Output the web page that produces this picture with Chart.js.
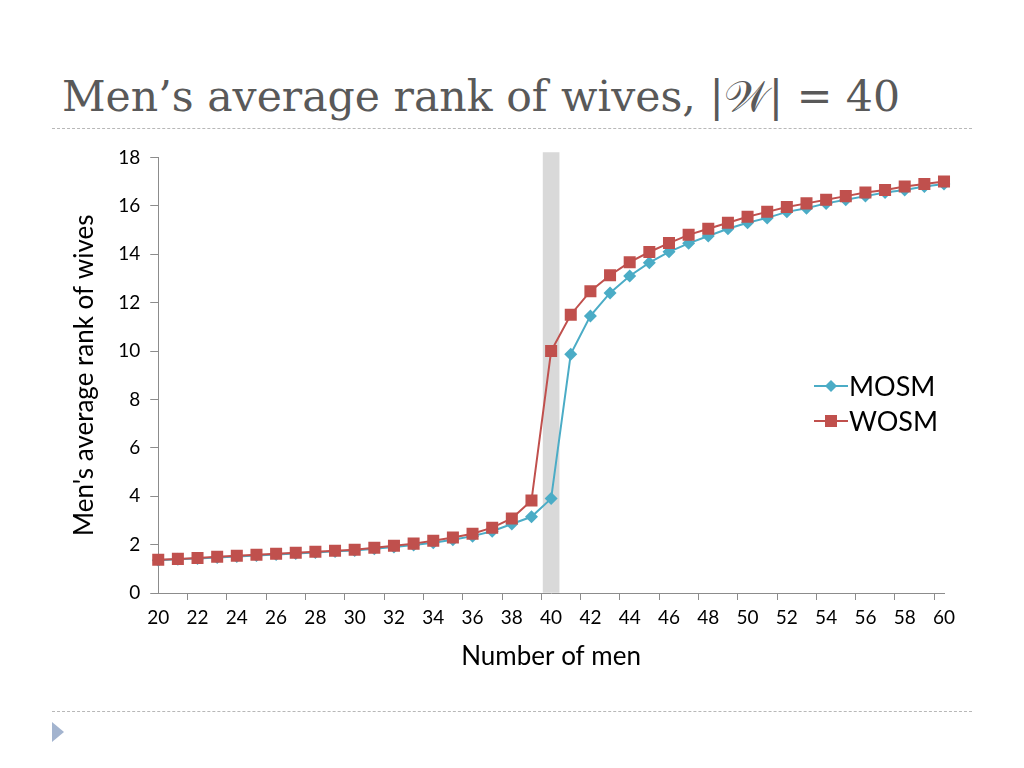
<!DOCTYPE html>
<html>
<head>
<meta charset="utf-8">
<script src="https://cdn.jsdelivr.net/npm/chart.js@4"></script>
<style>
  html, body { margin:0; padding:0; background:#fff; width:1024px; height:768px; overflow:hidden; }
  #title { position:absolute; left:62px; top:71px; font-family:"DejaVu Serif","Liberation Serif",serif; font-size:42.6px; color:#595959; white-space:nowrap; }
  .rule { position:absolute; left:52px; width:920px; height:0; border-top:1px dashed #b8b8b8; }
  #tri { position:absolute; left:52px; top:722px; width:0; height:0; border-top:10px solid transparent; border-bottom:10px solid transparent; border-left:12px solid #a3b4cf; }
  #wrap { position:absolute; left:47px; top:136px; width:940px; height:540px; }
  #legend { position:absolute; left:814px; top:368px; font-family:"Lato","DejaVu Sans",sans-serif; font-size:27px; color:#000; line-height:35px; }
  #legend div { display:flex; align-items:center; }
  #legend svg { margin-right:1px; }
</style>
</head>
<body>
<div id="title">Men’s average rank of wives, |<span style="font-family:'DejaVu Sans','DejaVu Serif',serif;">𝒲</span>| = 40</div>
<div class="rule" style="top:128px"></div>
<div class="rule" style="top:711px"></div>
<div id="tri"></div>
<div id="wrap"><canvas id="c"></canvas></div>
<div id="legend">
  <div><svg width="34" height="20"><line x1="0" y1="10" x2="34" y2="10" stroke="#4BACC6" stroke-width="2"/><polygon points="17,4 23,10 17,16 11,10" fill="#4BACC6"/></svg><span>MOSM</span></div>
  <div><svg width="34" height="20"><line x1="0" y1="10" x2="34" y2="10" stroke="#C0504D" stroke-width="2"/><rect x="11" y="4" width="12" height="12" fill="#C0504D"/></svg><span>WOSM</span></div>
</div>
<script>
const menCounts = [20,21,22,23,24,25,26,27,28,29,30,31,32,33,34,35,36,37,38,39,40,41,42,43,44,45,46,47,48,49,50,51,52,53,54,55,56,57,58,59,60];
const mosm = [1.35,1.39,1.43,1.47,1.51,1.55,1.59,1.63,1.67,1.72,1.76,1.83,1.90,1.98,2.08,2.20,2.35,2.55,2.85,3.15,3.90,9.87,11.45,12.40,13.10,13.65,14.10,14.45,14.75,15.05,15.30,15.50,15.75,15.90,16.10,16.25,16.40,16.55,16.65,16.80,16.90];
const wosm = [1.37,1.41,1.45,1.50,1.54,1.58,1.62,1.66,1.70,1.75,1.79,1.87,1.95,2.04,2.16,2.29,2.45,2.70,3.08,3.82,10.00,11.50,12.47,13.13,13.67,14.09,14.46,14.80,15.05,15.30,15.55,15.75,15.95,16.10,16.25,16.40,16.55,16.65,16.80,16.90,17.00];
const highlightAt = 40;
const highlightHeight = 18.2;
const highlight = menCounts.map(n => n === highlightAt ? highlightHeight : null);

const font = "'Lato','DejaVu Sans',sans-serif";
new Chart(document.getElementById('c'), {
  data: {
    labels: menCounts.map(String),
    datasets: [
      { type:'line', label:'WOSM', data:wosm, borderColor:'#C0504D', backgroundColor:'#C0504D', borderWidth:2,
        pointStyle:'rect', pointRadius:8.5, pointHoverRadius:8.5, pointBorderWidth:0, order:0 },
      { type:'line', label:'MOSM', data:mosm, borderColor:'#4BACC6', backgroundColor:'#4BACC6', borderWidth:2,
        pointStyle:'rectRot', pointRadius:6.5, pointHoverRadius:6.5, pointBorderWidth:0, order:1 },
      { type:'bar', label:'highlight', data:highlight, backgroundColor:'#D9D9D9', barThickness:16, clip:false, order:2 }
    ]
  },
  options: {
    responsive:true, maintainAspectRatio:false, animation:false,
    layout:{ padding:{ left:18, right:43, top:18, bottom:0 } },
    plugins:{ legend:{ display:false }, tooltip:{ enabled:false } },
    scales:{
      x:{ type:'category', offset:false,
        grid:{ display:true, drawOnChartArea:false, drawTicks:true, tickLength:7, color:(ctx)=> (ctx.index % 2 === 0 ? '#8c8c8c' : 'rgba(0,0,0,0)') },
        border:{ display:true, color:'#8c8c8c', width:1 },
        ticks:{ autoSkip:false, maxRotation:0, color:'#000', font:{ family:font, size:19 }, padding:6,
          callback:function(v, i){ return i % 2 === 0 ? this.getLabelForValue(v) : ''; } },
        title:{ display:true, text:'Number of men', color:'#000', font:{ family:font, size:26 }, padding:{ top:6 } }
      },
      y:{ min:0, max:18,
        grid:{ display:true, drawOnChartArea:false, drawTicks:true, tickLength:8, color:'#8c8c8c' },
        border:{ display:true, color:'#8c8c8c', width:1 },
        ticks:{ stepSize:2, color:'#000', font:{ family:font, size:19 }, padding:10 },
        title:{ display:true, text:"Men's average rank of wives", color:'#000', font:{ family:font, size:26 }, padding:{ bottom:8 } }
      }
    }
  }
});
</script>
</body>
</html>
